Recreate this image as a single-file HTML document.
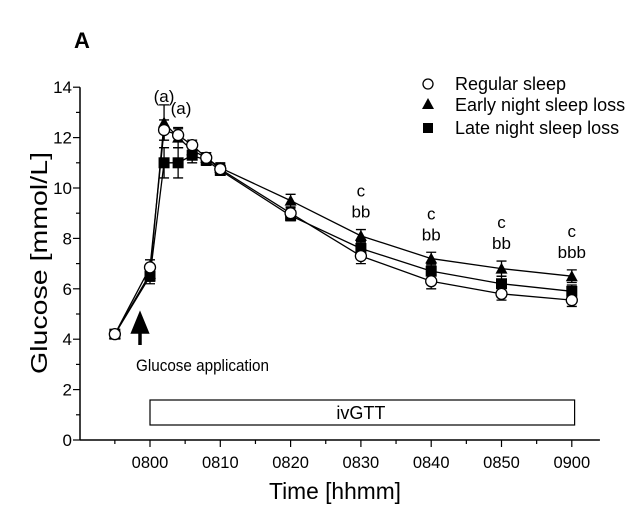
<!DOCTYPE html>
<html><head><meta charset="utf-8"><style>
body{margin:0;background:#fff}
svg{font-family:"Liberation Sans",Arial,sans-serif}
</style></head><body>
<svg id="chart" width="643" height="515" viewBox="0 0 643 515">
<text x="74" y="48" font-size="22" font-weight="bold">A</text>
<g id="axes"></g>
<g id="series"></g>
</svg>
<script>
const times=[-5,0,2,4,6,8,10,20,30,40,50,60];
const regular=[4.2,6.85,12.3,12.1,11.7,11.2,10.75,9.0,7.3,6.3,5.8,5.55];
const regularErr=[0.15,0.3,0.4,0.25,0.2,0.2,0.2,0.2,0.3,0.3,0.25,0.25];
const early=[4.2,6.6,12.6,12.0,11.5,11.2,10.8,9.5,8.1,7.2,6.8,6.5];
const earlyErr=[0.15,0.3,0.7,0.4,0.3,0.2,0.2,0.25,0.25,0.25,0.3,0.25];
const late=[4.2,6.5,11.0,11.0,11.3,11.1,10.7,8.9,7.6,6.7,6.2,5.9];
const lateErr=[0.15,0.3,0.6,0.6,0.3,0.2,0.2,0.2,0.3,0.3,0.3,0.25];
const yTicks=[0,2,4,6,8,10,12,14];
const xTickTimes=[0,10,20,30,40,50,60];
const xTickLabels=["0800","0810","0820","0830","0840","0850","0900"];
const annotTimes=[30,40,50,60];
const annotTop=["c","c","c","c"];
const annotBottom=["bb","bb","bb","bbb"];
const NS="http://www.w3.org/2000/svg";
const X=t=>150+7.03*t;
const Y=v=>440-v*25.2;
function mk(tag,attrs,parent,text){const e=document.createElementNS(NS,tag);for(const k in attrs)e.setAttribute(k,attrs[k]);if(text!==undefined)e.textContent=text;parent.appendChild(e);return e;}
const ax=document.getElementById('axes'), se=document.getElementById('series');
let e;
e=mk('line',{x1:80,y1:Y(0),x2:80,y2:Y(14),stroke:'#000','stroke-width':1.5},ax);


e=mk('line',{x1:80,y1:440,x2:X(64),y2:440,stroke:'#000','stroke-width':1.5},ax);


for(let v=0;v<=14;v++){mk('line',{x1:v%2?76:73,y1:Y(v),x2:80,y2:Y(v),stroke:'#000','stroke-width':1.2},ax);}
yTicks.forEach(v=>{e=mk('text',{x:72,y:Y(v)+6,'font-size':17,'text-anchor':'end'},ax,String(v));

});
for(let t=-5;t<=60;t+=5){mk('line',{x1:X(t),y1:440,x2:X(t),y2:t%10?444:447,stroke:'#000','stroke-width':1.2},ax);}
xTickTimes.forEach((t,i)=>{e=mk('text',{x:X(t),y:468,'font-size':16.5,'text-anchor':'middle'},ax,xTickLabels[i]);

});
e=mk('text',{x:335,y:499,'font-size':23,'text-anchor':'middle',textLength:132,lengthAdjust:'spacingAndGlyphs'},ax,'Time [hhmm]');


e=mk('text',{x:0,y:0,'font-size':23,'text-anchor':'middle',textLength:222,lengthAdjust:'spacingAndGlyphs',transform:'translate(47,263) rotate(-90)'},ax,'Glucose [mmol/L]');


e=mk('rect',{x:X(0),y:400,width:X(60.4)-X(0),height:25,fill:'#fff',stroke:'#000','stroke-width':1.2},ax);


e=mk('text',{x:(X(0)+X(60))/2,y:419,'font-size':18,'text-anchor':'middle'},ax,'ivGTT');


e=mk('path',{d:'M140 345 L140 328 M133 332 L140 315 L147 332 Z',stroke:'#000','stroke-width':3.5,fill:'#000'},ax);


e=mk('text',{x:136,y:371,'font-size':17,textLength:133,lengthAdjust:'spacingAndGlyphs'},ax,'Glucose application');


[[early,'early'],[late,'late'],[regular,'regular']].forEach(([d,n])=>{
 e=mk('polyline',{points:times.map((t,i)=>X(t)+','+Y(d[i])).join(' '),fill:'none',stroke:'#000','stroke-width':1.3},se);
 
 
});
function errbar(t,v,er){const x=X(t);mk('path',{d:`M${x} ${Y(v+er)} L${x} ${Y(v-er)} M${x-5} ${Y(v+er)} L${x+5} ${Y(v+er)} M${x-5} ${Y(v-er)} L${x+5} ${Y(v-er)}`,stroke:'#000','stroke-width':1.3,fill:'none'},se);}
times.forEach((t,i)=>{errbar(t,late[i],lateErr[i]);errbar(t,early[i],earlyErr[i]);errbar(t,regular[i],regularErr[i]);});
times.forEach((t,i)=>{e=mk('rect',{x:X(t)-5.5,y:Y(late[i])-5.5,width:11,height:11,fill:'#000'},se);

});
times.forEach((t,i)=>{const x=X(t),y=Y(early[i]);e=mk('path',{d:`M${x} ${y-6} L${x+6} ${y+5} L${x-6} ${y+5} Z`,fill:'#000'},se);

});
times.forEach((t,i)=>{e=mk('circle',{cx:X(t),cy:Y(regular[i]),r:5.5,fill:'#fff',stroke:'#000','stroke-width':1.3},se);

});
e=mk('text',{x:164,y:102,'font-size':17,'text-anchor':'middle'},se,'(a)');


e=mk('text',{x:181,y:114,'font-size':17,'text-anchor':'middle'},se,'(a)');


annotTimes.forEach((t,i)=>{const k=times.indexOf(t);const base=Y(early[k]+earlyErr[k])-12;
 e=mk('text',{x:X(t),y:base-21,'font-size':17,'text-anchor':'middle'},se,annotTop[i]);
 
 
 e=mk('text',{x:X(t),y:base,'font-size':17,'text-anchor':'middle'},se,annotBottom[i]);
 
 
});
const lg=mk('g',{},se);


mk('circle',{cx:428,cy:84,r:5,fill:'#fff',stroke:'#000','stroke-width':1.3},lg);
mk('path',{d:'M428 98 L434 109 L422 109 Z',fill:'#000'},lg);
mk('rect',{x:423,y:123,width:10,height:10,fill:'#000'},lg);
[['Regular sleep',90],['Early night sleep loss',111],['Late night sleep loss',134]].forEach(([s,y])=>{
 e=mk('text',{x:455,y:y,'font-size':18},lg,s);
 
 
});
</script>
</body></html>
